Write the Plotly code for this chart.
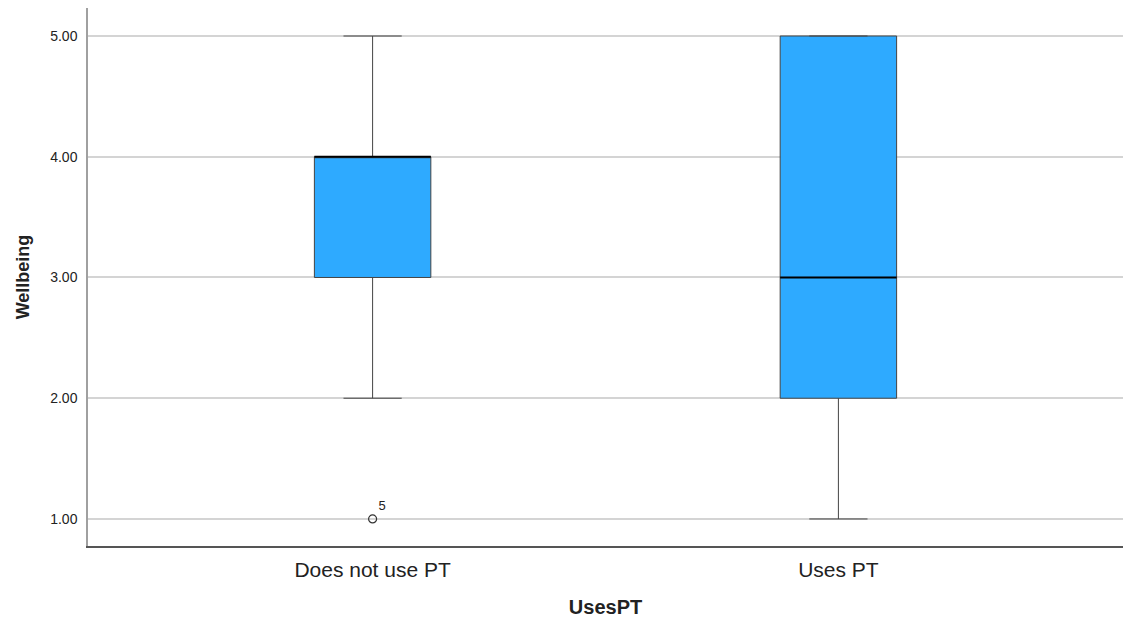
import plotly.graph_objects as go

# Wellbeing by public transport use: box summaries per group
groups = ["Does not use PT", "Uses PT"]
positions = [0, 1]
q1 = [3.0, 2.0]
median = [4.0, 3.0]
q3 = [4.0, 5.0]
lower_whisker = [2.0, 1.0]
upper_whisker = [5.0, 5.0]

# Outliers (group index, value, case label)
outlier_group = [0]
outlier_value = [1.0]
outlier_case = ["5"]

y_ticks = [1, 2, 3, 4, 5]
y_tick_labels = ["1.00", "2.00", "3.00", "4.00", "5.00"]

BOX_WIDTH = 0.25
FILL = "#2eaaff"
FONT = "Liberation Sans, Arial, sans-serif"

fig = go.Figure()

for i, name in enumerate(groups):
    fig.add_trace(go.Box(
        x=[positions[i]],
        q1=[q1[i]], median=[median[i]], q3=[q3[i]],
        lowerfence=[lower_whisker[i]], upperfence=[upper_whisker[i]],
        width=BOX_WIDTH, whiskerwidth=0.5,
        fillcolor=FILL,
        line=dict(color="#444444", width=1),
        boxpoints=False, hoverinfo="skip", showlegend=False,
    ))
    # heavier median line
    fig.add_trace(go.Scatter(
        x=[positions[i] - BOX_WIDTH / 2, positions[i] + BOX_WIDTH / 2],
        y=[median[i], median[i]],
        mode="lines", line=dict(color="black", width=2),
        hoverinfo="skip", showlegend=False,
    ))

fig.add_trace(go.Scatter(
    x=[positions[g] for g in outlier_group],
    y=outlier_value,
    mode="markers+text",
    text=outlier_case,
    textposition="top right",
    textfont=dict(family=FONT, size=13, color="#222"),
    marker=dict(symbol="circle-open", size=8, color="#333", line=dict(width=1.2)),
    hoverinfo="skip", showlegend=False,
))

fig.update_layout(
    width=1123, height=622,
    margin=dict(l=88, r=0, t=8, b=76),
    paper_bgcolor="white", plot_bgcolor="white",
    font=dict(family=FONT, color="#222"),
)

fig.update_xaxes(
    range=[-0.611, 1.611],
    tickmode="array", tickvals=positions, ticktext=groups,
    tickfont=dict(size=21, color="#222"),
    showgrid=False, zeroline=False,
    showline=True, linecolor="#555", linewidth=1.5,
    ticks="", ticklabelstandoff=4,
    title=dict(text="<b>UsesPT</b>", font=dict(size=20, color="#222"), standoff=20),
)

fig.update_yaxes(
    range=[0.776, 5.232],
    tickmode="array", tickvals=y_ticks, ticktext=y_tick_labels,
    tickfont=dict(size=14, color="#222"),
    showgrid=True, gridcolor="#d4d4d4", gridwidth=1.5,
    zeroline=False,
    showline=True, linecolor="#a0a0a0", linewidth=1.5,
    ticks="", ticklabelstandoff=6,
    title=dict(text="<b>Wellbeing</b>", font=dict(size=18, color="#222"), standoff=16),
)

fig.write_html("out.html")
